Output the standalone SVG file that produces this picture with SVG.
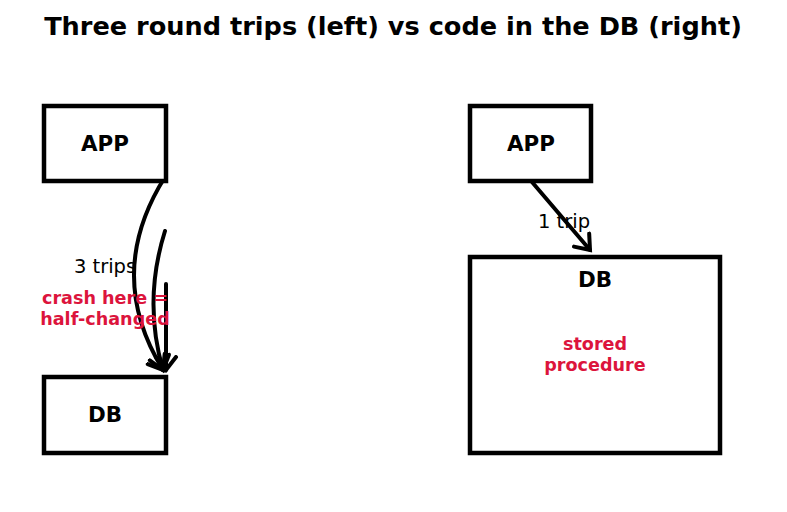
<svg xmlns="http://www.w3.org/2000/svg" width="787" height="512" viewBox="0 0 787 512">
<style>
.box{fill:#fff;stroke:#000;stroke-width:4.5}
.lbl{font-family:"DejaVu Sans",sans-serif;font-weight:bold;font-size:21.4px;text-anchor:middle;fill:#000}
.txt{font-family:"DejaVu Sans",sans-serif;font-size:19.5px;text-anchor:middle;fill:#000}
.red{font-family:"DejaVu Sans",sans-serif;font-weight:bold;font-size:17.6px;text-anchor:middle;fill:#dc143c}
.conn{fill:none;stroke:#000;stroke-width:4;stroke-linecap:round}
</style>
<defs>
<marker id="ah" markerUnits="userSpaceOnUse" markerWidth="30" markerHeight="30" viewBox="-15 -15 30 30" refX="0" refY="0" orient="auto">
<path d="M-13,-10 L0,0 L-13,10" fill="none" stroke="#000" stroke-width="4" stroke-linecap="round" stroke-linejoin="miter"/>
</marker>
</defs>
<rect width="787" height="512" fill="#fff"/>
<text x="393" y="35" font-family="DejaVu Sans,sans-serif" font-weight="bold" font-size="25.6" text-anchor="middle">Three round trips (left) vs code in the DB (right)</text>
<g id="connectors">
<path class="conn" d="M165,177 Q104,274 163,370" marker-end="url(#ah)"/>
<path class="conn" d="M165,231 Q143,301 163,370" marker-end="url(#ah)"/>
<path class="conn" d="M166,284 L166,370" marker-end="url(#ah)"/>
<path class="conn" d="M532,182 L590,250" marker-end="url(#ah)"/>
</g>
<g id="app-left">
<rect class="box" x="44" y="106" width="122" height="75"/>
<text class="lbl" x="105" y="151">APP</text>
</g>
<g id="db-left">
<rect class="box" x="44" y="377" width="122" height="76"/>
<text class="lbl" x="105" y="422">DB</text>
</g>
<g id="app-right">
<rect class="box" x="470" y="106" width="121" height="75"/>
<text class="lbl" x="531" y="151">APP</text>
</g>
<g id="db-right">
<rect class="box" x="470" y="257" width="250" height="196"/>
<text class="lbl" x="595" y="287">DB</text>
<text class="red" x="595" y="350">stored</text>
<text class="red" x="595" y="371">procedure</text>
</g>
<text class="txt" x="105" y="273">3 trips</text>
<text class="red" x="105" y="304">crash here =</text>
<text class="red" x="105" y="325">half-changed</text>
<text class="txt" x="564" y="228">1 trip</text>
</svg>
